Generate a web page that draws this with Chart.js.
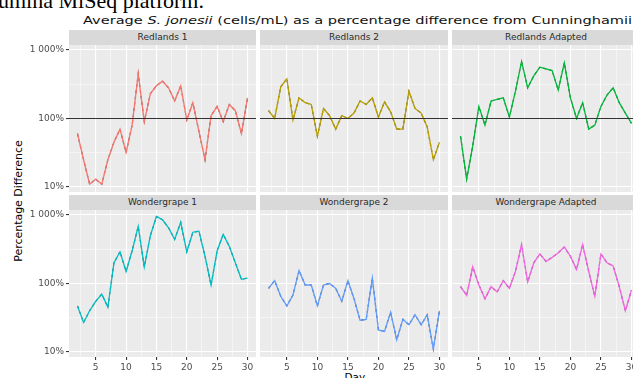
<!DOCTYPE html>
<html>
<head>
<meta charset="utf-8">
<script src="https://cdn.jsdelivr.net/npm/chart.js@4.4.1/dist/chart.umd.min.js"></script>
<style>
html, body { margin: 0; padding: 0; background: #fff; }
body { width: 633px; height: 378px; overflow: hidden; position: relative; font-family: "DejaVu Sans", sans-serif; }
canvas { position: absolute; }
.txt { position: absolute; white-space: nowrap; }
.strip { position: absolute; background: #d9d9d9; color: #2a2a2a; font-size: 9px; text-align: center; height: 15px; line-height: 15px; overflow: hidden; }
</style>
</head>
<body>
<div class="txt" id="doc" style="left:-2px;top:-12px;font-family:'Liberation Serif',serif;font-size:22px;color:#000;">umina MiSeq platform.</div>
<div class="txt" id="title" style="left:83px;top:14px;font-size:11px;color:#111;transform-origin:0 0;">Average <i>S. jonesii</i> (cells/mL) as a percentage difference from Cunninghamii</div>
<div class="txt" id="ytitle" style="font-size:10.5px;color:#000;">Percentage Difference</div>
<div class="txt" id="xtitle" style="font-size:10.5px;color:#000;">Day</div>

<script>
// days sampled
const days = [2, 3, 4, 5, 6, 7, 8, 9, 10, 11, 12, 13, 14, 15, 16, 17, 18, 19, 20, 21, 22, 23, 24, 25, 26, 27, 28, 29, 30];

// percentage difference per site
const redlands1 = [60, 25, 11, 13, 11, 25, 45, 70, 32, 80, 450, 90, 230, 300, 350, 280, 180, 300, 95, 170, 65, 25, 110, 150, 90, 160, 130, 60, 200];
const redlands2 = [130, 100, 290, 380, 95, 200, 170, 160, 55, 140, 110, 70, 110, 100, 120, 180, 160, 200, 105, 175, 125, 70, 70, 250, 140, 120, 75, 25, 45];
const redlandsAdapted = [55, 13, 40, 150, 80, 180, 190, 200, 105, 250, 680, 280, 420, 560, 530, 500, 260, 650, 200, 100, 170, 70, 80, 150, 220, 280, 170, 120, 85];
const wondergrape1 = [47, 27, 40, 55, 70, 45, 200, 290, 150, 300, 680, 175, 500, 950, 850, 650, 440, 780, 290, 560, 580, 250, 95, 300, 520, 350, 200, 115, 120];
const wondergrape2 = [85, 110, 65, 47, 68, 155, 95, 95, 47, 95, 100, 85, 55, 110, 60, 29, 30, 120, 21, 20, 38, 15, 30, 25, 35, 25, 35, 11, 40];
const wondergrapeAdapted = [90, 67, 175, 95, 60, 90, 75, 110, 85, 150, 370, 105, 200, 270, 210, 240, 280, 340, 250, 160, 370, 150, 65, 270, 200, 180, 90, 40, 80];

const panelNames = ['Redlands 1', 'Redlands 2', 'Redlands Adapted', 'Wondergrape 1', 'Wondergrape 2', 'Wondergrape Adapted'];
const panelSeries = [redlands1, redlands2, redlandsAdapted, wondergrape1, wondergrape2, wondergrapeAdapted];
const lineColors = ['#F8766D', '#B79F00', '#00BA38', '#00BFC4', '#619CFF', '#F564E3'];

const yTicks = [10, 100, 1000];
const yTickLabels = ['10%', '100%', '1 000%'];
const yMinor = [31.62, 316.2];
const xTicks = [5, 10, 15, 20, 25, 30];
const xMinor = [2.5, 7.5, 12.5, 17.5, 22.5, 27.5];
const refLevel = 100; // hline on the Redlands row

// layout
const colLeft = [69, 260, 452];
const panelW = [187, 188, 188];
const rowTop = [45, 210];
const panelH = 147;
const PAD = 8;
const yAxisW = 69;
const xAxisH = 20;

const panelBg = {
    id: 'panelBg',
    beforeDraw(chart) {
        const a = chart.chartArea, ctx = chart.ctx;
        ctx.save();
        ctx.fillStyle = '#EBEBEB';
        ctx.fillRect(a.left, a.top, a.right - a.left, a.bottom - a.top);
        ctx.restore();
    }
};

const refLine = {
    id: 'refLine',
    afterDatasetsDraw(chart, args, opts) {
        if (!opts.show) return;
        const a = chart.chartArea, ctx = chart.ctx;
        const y = Math.round(chart.scales.y.getPixelForValue(refLevel)) + 0.5;
        ctx.save();
        ctx.strokeStyle = '#333333';
        ctx.lineWidth = 1;
        ctx.beginPath();
        ctx.moveTo(a.left, y);
        ctx.lineTo(a.right, y);
        ctx.stroke();
        ctx.restore();
    }
};

panelSeries.forEach((vals, i) => {
    const r = Math.floor(i / 3), c = i % 3;
    const showY = c === 0, showX = r === 1;
    const w = panelW[c] + (showY ? yAxisW : 0);
    const h = panelH + 2 * PAD + (showX ? xAxisH : 0);
    const cv = document.createElement('canvas');
    cv.width = w; cv.height = h;
    cv.style.left = (showY ? 0 : colLeft[c]) + 'px';
    cv.style.top = (rowTop[r] - PAD) + 'px';
    cv.style.width = w + 'px'; cv.style.height = h + 'px';
    document.body.appendChild(cv);

    const strip = document.createElement('div');
    strip.className = 'strip';
    strip.style.left = colLeft[c] + 'px';
    strip.style.width = panelW[c] + 'px';
    strip.style.top = (rowTop[r] - 15) + 'px';
    strip.textContent = panelNames[i];
    document.body.appendChild(strip);

    const pts = days.map((d, k) => ({ x: d, y: vals[k] }));

    new Chart(cv.getContext('2d'), {
        type: 'line',
        data: {
            datasets: [
                { data: pts, borderColor: lineColors[i], borderWidth: 1.3, pointRadius: 0, tension: 0 },
                { data: pts, borderColor: 'rgba(35,35,35,0.85)', borderWidth: 1.1, borderDash: [3, 3], pointRadius: 0, tension: 0 }
            ]
        },
        options: {
            responsive: false,
            animation: false,
            devicePixelRatio: 1,
            events: [],
            layout: { padding: { top: PAD, bottom: PAD, left: 0, right: 0 } },
            plugins: {
                legend: { display: false },
                tooltip: { enabled: false },
                refLine: { show: r === 0 }
            },
            scales: {
                x: {
                    type: 'linear',
                    min: 0.6, max: 31.4,
                    afterBuildTicks: s => { s.ticks = [...xTicks, ...xMinor].sort((a, b) => a - b).map(v => ({ value: v })); },
                    afterFit: s => { s.height = showX ? xAxisH : 0; },
                    border: { display: false },
                    grid: {
                        color: '#FFFFFF',
                        lineWidth: ctx => xTicks.includes(ctx.tick.value) ? 1.1 : 0.5,
                        drawTicks: showX,
                        tickLength: 3,
                        tickColor: ctx => xTicks.includes(ctx.tick.value) ? '#333333' : 'rgba(0,0,0,0)'
                    },
                    ticks: {
                        display: showX,
                        autoSkip: false,
                        maxRotation: 0,
                        padding: 2,
                        color: '#4D4D4D',
                        font: { family: 'DejaVu Sans', size: 9 },
                        callback: v => xTicks.includes(v) ? String(v) : ''
                    }
                },
                y: {
                    type: 'logarithmic',
                    bounds: 'data',
                    min: 8.46, max: 1181,
                    afterBuildTicks: s => { s.ticks = [...yTicks, ...yMinor].sort((a, b) => a - b).map(v => ({ value: v })); },
                    afterFit: s => { s.width = showY ? yAxisW : 0; },
                    border: { display: false },
                    grid: {
                        color: '#FFFFFF',
                        lineWidth: ctx => yTicks.includes(ctx.tick.value) ? 1.1 : 0.5,
                        drawTicks: showY,
                        tickLength: 3,
                        tickColor: ctx => yTicks.includes(ctx.tick.value) ? '#333333' : 'rgba(0,0,0,0)'
                    },
                    ticks: {
                        display: showY,
                        autoSkip: false,
                        padding: 2,
                        color: '#4D4D4D',
                        font: { family: 'DejaVu Sans', size: 9 },
                        callback: v => { const k = yTicks.indexOf(v); return k >= 0 ? yTickLabels[k] : ''; }
                    }
                }
            }
        },
        plugins: [panelBg, refLine]
    });
});

// stretch the title to the width it takes in the figure
const title = document.getElementById('title');
title.style.transform = 'scaleX(' + (549 / title.offsetWidth) + ')';

const yt = document.getElementById('ytitle');
const ytw = yt.offsetWidth, yth = yt.offsetHeight;
yt.style.left = (18 - ytw / 2) + 'px';
yt.style.top = (201 - yth / 2) + 'px';
yt.style.transform = 'rotate(-90deg) scaleX(' + (122 / ytw) + ')';

const xt = document.getElementById('xtitle');
xt.style.left = (355 - xt.offsetWidth / 2) + 'px';
xt.style.top = '371px';
</script>
</body>
</html>
